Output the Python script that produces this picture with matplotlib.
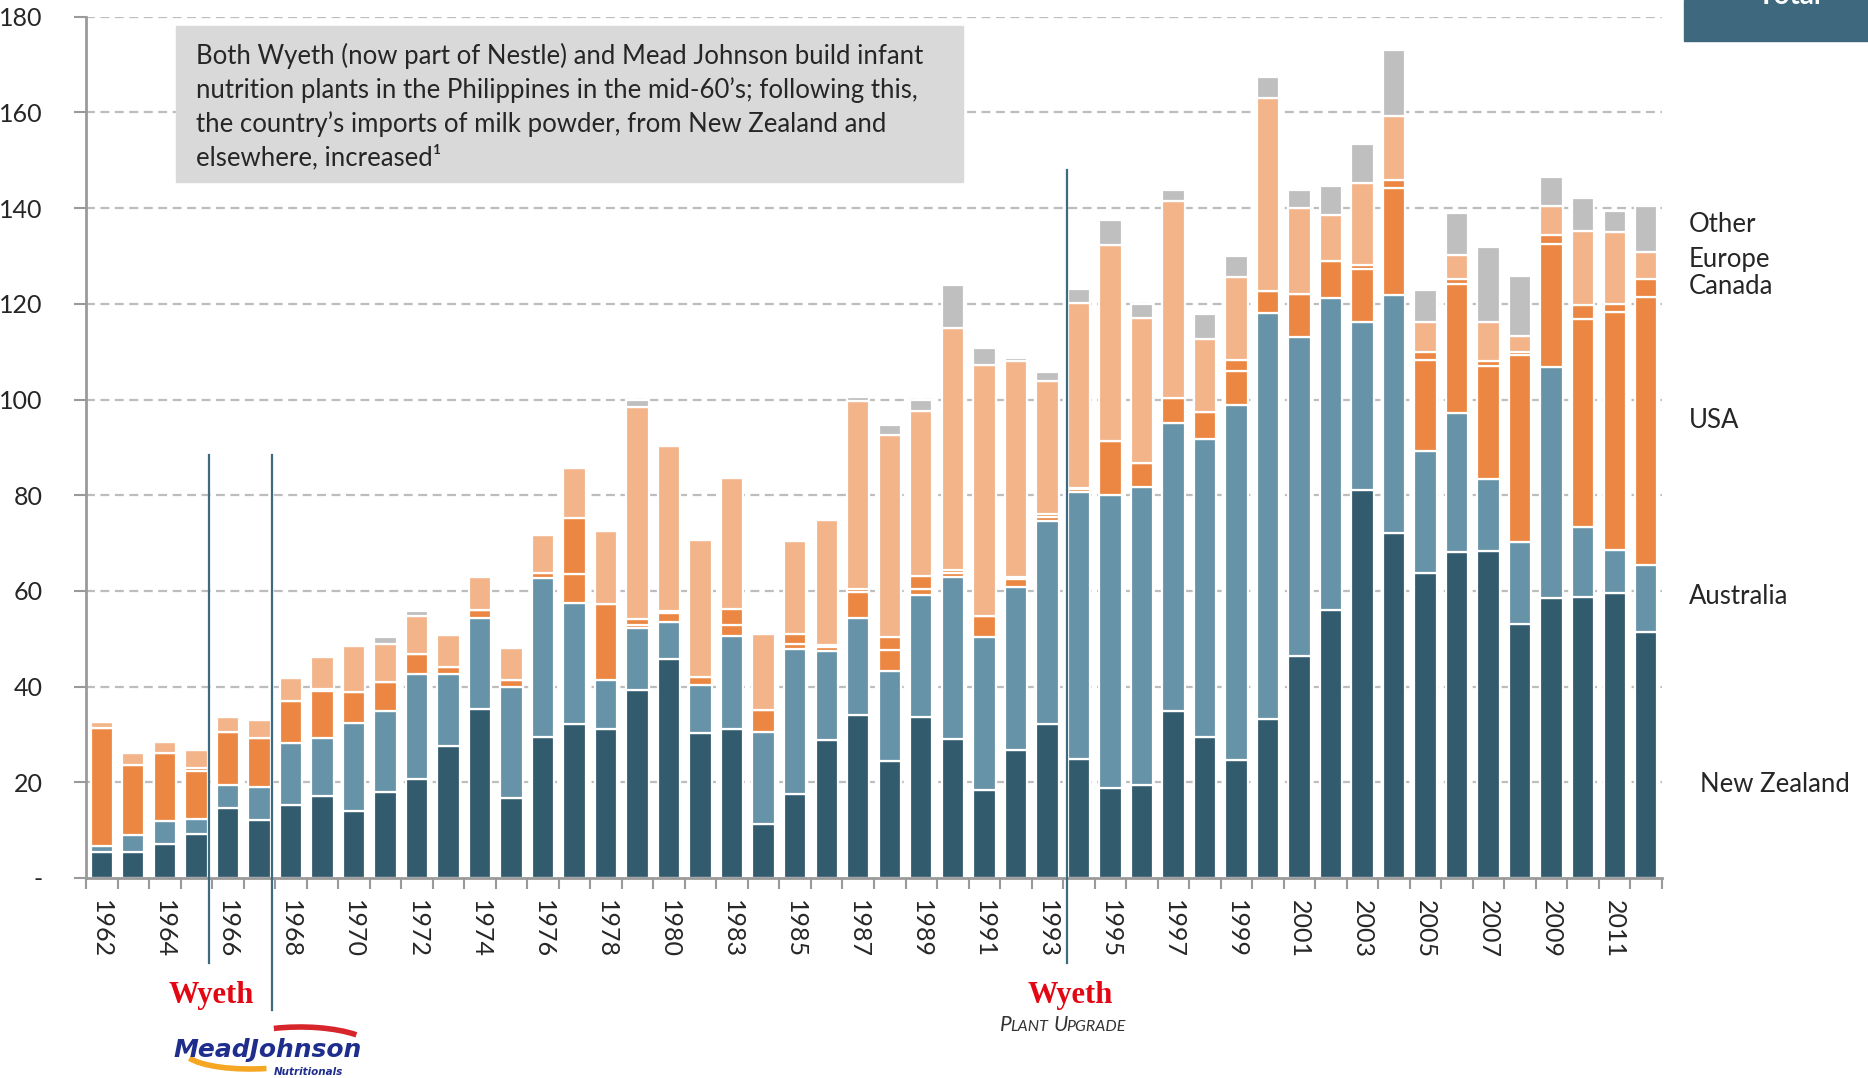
import matplotlib.pyplot as plt
from matplotlib.patches import Rectangle, Arc
import numpy as np

# milk powder imports to the Philippines by source, '000 t
years = list(range(1962, 1982)) + list(range(1983, 2013))
new_zealand = [5.4, 5.4, 7.1, 9.2, 14.6, 12.1, 15.3, 17.2, 14.1, 17.9,
               20.7, 27.5, 35.3, 16.7, 29.4, 32.2, 31.2, 39.3, 45.8, 30.3,
               31.2, 11.3, 17.6, 28.9, 34.1, 24.5, 33.7, 29.1, 18.4, 26.8,
               32.2, 24.9, 18.8, 19.4, 35.0, 29.5, 24.7, 33.2, 46.3, 56.0,
               81.0, 72.1, 63.7, 68.1, 68.3, 53.0, 58.5, 58.7, 59.5, 51.4]
australia = [1.2, 3.6, 4.9, 3.1, 4.8, 6.9, 12.9, 12.0, 18.2, 16.9,
             21.9, 15.1, 19.1, 23.3, 33.4, 25.2, 10.1, 13.0, 7.6, 10.1,
             19.3, 19.2, 30.3, 18.5, 20.3, 18.7, 25.4, 33.8, 31.9, 34.0,
             42.5, 55.7, 61.3, 62.3, 60.1, 62.3, 74.2, 84.9, 66.8, 65.2,
             35.2, 49.7, 25.5, 29.1, 15.0, 17.2, 48.3, 14.6, 9.1, 14.0]
usa = [24.8, 14.6, 14.1, 10.1, 11.2, 10.2, 8.7, 9.8, 6.5, 6.2,
       4.2, 1.6, 1.6, 1.4, 1.0, 6.2, 16.0, 0.6, 2.0, 1.7,
       2.4, 4.6, 1.0, 0.8, 5.4, 4.5, 1.2, 0.8, 4.5, 1.7,
       0.7, 0.6, 11.2, 5.0, 5.2, 5.6, 7.1, 4.6, 8.9, 7.8,
       11.1, 22.4, 19.1, 26.9, 23.8, 39.0, 25.7, 43.6, 49.7, 56.0]
canada = [0, 0, 0, 0.5, 0, 0, 0, 0.5, 0, 0,
          0, 0, 0, 0, 0, 11.7, 0, 1.2, 0.5, 0,
          3.3, 0, 2.1, 0.4, 0.6, 2.6, 2.9, 0.7, 0, 0.5,
          0.7, 0.3, 0, 0, 0, 0, 2.3, 0, 0, 0,
          0.9, 1.7, 1.6, 1.1, 0.9, 0.8, 1.9, 2.9, 1.7, 3.8]
europe = [1.3, 2.5, 2.4, 3.8, 3.1, 3.8, 4.8, 6.6, 9.6, 7.9,
          8.0, 6.5, 7.0, 6.6, 7.8, 10.4, 15.3, 44.3, 34.3, 28.6,
          27.4, 15.8, 19.5, 26.3, 39.3, 42.2, 34.4, 50.5, 52.4, 45.0,
          27.8, 38.7, 41.0, 30.3, 41.2, 15.3, 17.2, 40.3, 18.0, 9.5,
          17.0, 13.4, 6.3, 5.0, 8.2, 3.2, 6.1, 15.5, 15.0, 5.6]
other = [0, 0, 0, 0, 0, 0, 0, 0, 0.4, 1.4,
         1.1, 0, 0, 0, 0, 0, 0, 1.5, 0, 0,
         0, 0, 0, 0, 0.9, 2.2, 2.2, 9.1, 3.5, 0.6,
         1.8, 2.9, 5.3, 3.0, 2.2, 5.2, 4.4, 4.3, 3.8, 6.1,
         8.1, 13.7, 6.7, 8.7, 15.6, 12.7, 6.0, 6.8, 4.4, 9.7]

series = [new_zealand, australia, usa, canada, europe, other]
colors = ['#335b6e', '#6793a8', '#eb8742', '#eb8742', '#f3b48a', '#bfbfbf']
series_labels = ['New Zealand', 'Australia', 'USA', 'Canada', 'Europe', 'Other']

W, H = 1868, 1078
plt.rcParams['font.family'] = ['Lato', 'DejaVu Sans']
fig = plt.figure(figsize=(W / 100, H / 100), dpi=100)
ax = fig.add_axes([86 / W, (H - 878) / H, 1576 / W, 861.3 / H])

x = np.arange(len(years))
bottom = np.zeros(len(years))
for vals, col in zip(series, colors):
    ax.bar(x, vals, width=0.71, bottom=bottom, color=col,
           edgecolor='white', linewidth=1.6, zorder=3)
    bottom += np.array(vals)

ax.set_xlim(-0.5, len(years) - 0.5)
ax.set_ylim(0, 180)

# dashed grid
for v in range(20, 181, 20):
    ax.axhline(v, color='#bdbdbd', linestyle=(0, (4, 2.5)), linewidth=1.6, zorder=1)

for s in ['top', 'right']:
    ax.spines[s].set_visible(False)
for s in ['left', 'bottom']:
    ax.spines[s].set_color('#9a9a9a')
    ax.spines[s].set_linewidth(2)
    ax.spines[s].set_zorder(4)

txt = '#262626'
ax.set_yticks(range(0, 181, 20))
ax.set_yticklabels(['-'] + [str(v) for v in range(20, 181, 20)])
ax.tick_params(axis='y', length=9, width=1.5, color='#9a9a9a', pad=22,
               labelsize=18, labelcolor=txt)

ax.set_xticks(x[::2])
ax.set_xticklabels([str(y) for y in years[::2]], rotation=270,
                   fontsize=18, color=txt)
ax.set_xticks(np.arange(-0.5, len(years), 1), minor=True)
ax.tick_params(axis='x', which='major', length=0, pad=16)
ax.tick_params(axis='x', which='minor', length=8, width=1.5, color='#9a9a9a')

# event markers
for xpos, y0, y1 in [(3.4, -17.7, 88.4), (5.4, -27.6, 88.4), (30.62, -17.7, 147.9)]:
    ax.plot([xpos, xpos], [y0, y1], color='#3e6a80', linewidth=1.6,
            clip_on=False, zorder=5)

def fx(px):
    return px / W

def fy(py):
    return 1 - py / H

# annotation box
fig.patches.append(Rectangle((fx(176), fy(182)), fx(963) - fx(176), fy(26) - fy(182),
                             transform=fig.transFigure, color='#d9d9d9', zorder=2))
note = ("Both Wyeth (now part of Nestle) and Mead Johnson build infant\n"
        "nutrition plants in the Philippines in the mid-60\u2019s; following this,\n"
        "the country\u2019s imports of milk powder, from New Zealand and\n"
        "elsewhere, increased\u00b9")
fig.text(fx(196), fy(43), note, fontsize=18.5, color=txt,
         va='top', ha='left', linespacing=1.38, zorder=6)

# series labels on the right
label_y = {'Other': 224, 'Europe': 260, 'Canada': 287, 'USA': 420,
           'Australia': 597, 'New Zealand': 785}
for name in series_labels:
    xx = 1700 if name == 'New Zealand' else 1689
    fig.text(fx(xx), fy(label_y[name]), name, fontsize=18.5,
             color=txt, va='center', ha='left')

# top-right header tab
fig.patches.append(Rectangle((fx(1684), fy(41)), fx(W) - fx(1684), fy(0) - fy(41),
                             transform=fig.transFigure, color='#3d687d', zorder=2))
fig.text(fx(1790), fy(-4), 'Total', fontsize=20, fontweight='bold', color='white',
         ha='center', va='center')

# company marks below the axis
for cx in (211, 1070):
    fig.text(fx(cx), fy(996), 'Wyeth', family='Liberation Serif', fontweight='bold',
             fontsize=22, color='#e30613', ha='center', va='center')
fig.text(fx(1000), fy(1031), 'P', fontsize=15, style='italic', color='#333333',
         ha='left', va='baseline')
fig.text(fx(1010), fy(1031), 'LANT', fontsize=11.5, style='italic', color='#333333',
         ha='left', va='baseline')
fig.text(fx(1054), fy(1031), 'U', fontsize=15, style='italic', color='#333333',
         ha='left', va='baseline')
fig.text(fx(1066), fy(1031), 'PGRADE', fontsize=11.5, style='italic', color='#333333',
         ha='left', va='baseline')

fig.patches.append(Arc((fx(300), fy(1050)), fx(150) - fx(0), fy(1004) - fy(1050),
                       theta1=25, theta2=125, transform=fig.transFigure,
                       color='#d7262b', linewidth=4))
fig.patches.append(Arc((fx(250), fy(1052)), fx(130) - fx(0), fy(1018) - fy(1052),
                       theta1=190, theta2=300, transform=fig.transFigure,
                       color='#f5a623', linewidth=4))
fig.text(fx(268), fy(1050), 'MeadJohnson', family='DejaVu Sans', fontweight='bold',
         style='italic', fontsize=18, color='#1f2d8c', ha='center', va='center')
fig.text(fx(308), fy(1072), 'Nutritionals', family='DejaVu Sans', fontweight='bold',
         style='italic', fontsize=7.5, color='#1f2d8c', ha='center', va='center')

fig.savefig('out.png', dpi=100)
